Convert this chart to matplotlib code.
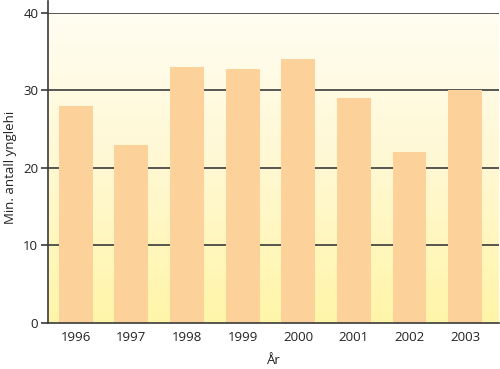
import numpy as np
import matplotlib.pyplot as plt
from matplotlib.colors import LinearSegmentedColormap

years = ["1996", "1997", "1998", "1999", "2000", "2001", "2002", "2003"]
counts = [28, 23, 33, 32.7, 34, 29, 22, 30]

plt.rcParams['font.family'] = ['Open Sans', 'DejaVu Sans']

fig = plt.figure(figsize=(5, 3.69), dpi=100)
ax = fig.add_axes([0.096, 0.125, 0.902, 0.84])

# vertical gradient behind the bars
cmap = LinearSegmentedColormap.from_list("bg", ["#FFF5A8", "#FFF8D2", "#FFFDF2"])
grad = np.linspace(0, 1, 256).reshape(-1, 1)
ax.imshow(grad, cmap=cmap, aspect="auto", origin="lower",
          extent=[-0.5, 7.61, 0, 40], zorder=0)

x = np.arange(len(years))
for v in [10, 20, 30, 40]:
    ax.axhline(v, color="#3a3a3a", linewidth=1.2, zorder=1)
ax.bar(x, counts, width=0.61, color="#FDD29A", zorder=2)

ax.set_xlim(-0.5, 7.61)
ax.set_ylim(0, 40)
ax.set_yticks([0, 10, 20, 30, 40])
ax.set_xticks(x)
ax.set_xticklabels(years)
ax.tick_params(axis="x", length=0, pad=6, labelsize=9.5, colors="#222222")
ax.tick_params(axis="y", length=5, width=1.2, color="#3a3a3a", pad=2,
               labelsize=9.5, labelcolor="#222222")

for s in ["top", "right"]:
    ax.spines[s].set_visible(False)
ax.spines["left"].set_color("#3a3a3a")
ax.spines["bottom"].set_color("#3a3a3a")
ax.spines["left"].set_linewidth(1.2)
ax.spines["bottom"].set_linewidth(1.2)
ax.spines["left"].set_bounds(0, 41.5)
ax.spines["left"].set_clip_on(False)

ax.set_xlabel("År", fontsize=9.5, color="#222222", labelpad=7)
ax.set_ylabel("Min. antall ynglehi", fontsize=9.5, color="#222222")
ax.yaxis.set_label_coords(-0.068, 0.5)

fig.savefig("out.png", dpi=100)
